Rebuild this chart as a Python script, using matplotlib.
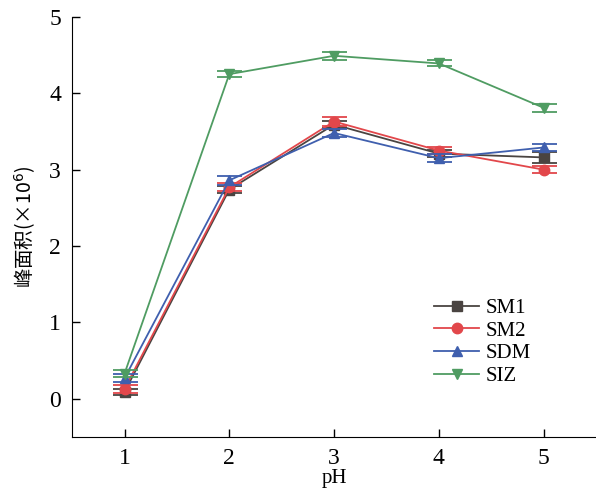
import numpy as np
import matplotlib.pyplot as plt

# data
ph = [1, 2, 3, 4, 5]
sm1 = [0.09, 2.74, 3.59, 3.21, 3.16]
sm2 = [0.13, 2.77, 3.63, 3.25, 3.00]
sdm = [0.27, 2.86, 3.48, 3.15, 3.29]
siz = [0.33, 4.25, 4.49, 4.39, 3.81]
err_sm1 = [0.04, 0.05, 0.05, 0.05, 0.07]
err_sm2 = [0.05, 0.05, 0.06, 0.05, 0.05]
err_sdm = [0.05, 0.06, 0.05, 0.05, 0.05]
err_siz = [0.05, 0.04, 0.05, 0.04, 0.05]

plt.rcParams['font.family'] = ['Liberation Serif', 'Noto Sans CJK SC']

fig = plt.figure(figsize=(5.96, 4.95), dpi=100)
ax = fig.add_axes([0.121, 0.117, 0.879, 0.849])

series = [
    ("SM1", sm1, err_sm1, "#4a4441", "s"),
    ("SM2", sm2, err_sm2, "#e2474b", "o"),
    ("SDM", sdm, err_sdm, "#3f5fae", "^"),
    ("SIZ", siz, err_siz, "#4f9c62", "v"),
]
for name, y, e, c, m in series:
    ax.errorbar(ph, y, yerr=e, color=c, fmt='none', elinewidth=1.3,
                capsize=9, capthick=1.3)
    ax.plot(ph, y, color=c, marker=m, markersize=7.5, lw=1.3, label=name)

ax.set_xlim(0.5, 5.5)
ax.set_ylim(-0.5, 5)
ax.set_xticks(ph)
ax.set_yticks([0, 1, 2, 3, 4, 5])
ax.tick_params(direction='in', length=6, width=1, labelsize=17, pad=8)
ax.spines['top'].set_visible(False)
ax.spines['right'].set_visible(False)
ax.set_xlabel("pH", fontsize=15, labelpad=0)
ax.set_ylabel("峰面积(×10$^6$)", fontsize=14, family=['Noto Sans CJK SC'], labelpad=8)

ax.legend(loc='upper left', bbox_to_anchor=(0.69, 0.33), frameon=False, fontsize=15,
          handlelength=2.2, labelspacing=0.15, handletextpad=0.3,
          borderpad=0, borderaxespad=0)

fig.savefig("out.png", dpi=100)
